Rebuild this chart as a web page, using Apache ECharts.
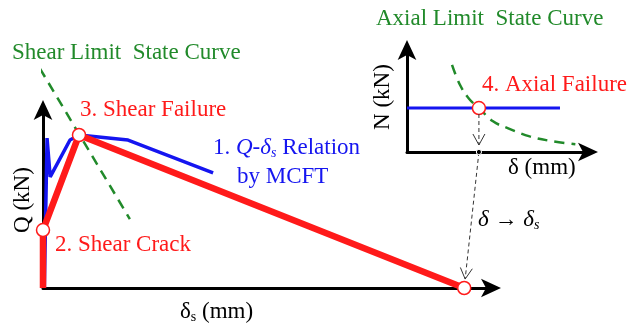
<!DOCTYPE html>
<html>
<head>
<meta charset="utf-8">
<script src="https://cdn.jsdelivr.net/npm/echarts@6/dist/echarts.min.js"></script>
<style>
  html, body { margin: 0; padding: 0; background: #fff; }
  #chart { width: 630px; height: 327px; }
</style>
</head>
<body>
<div id="chart"></div>
<script>
// Shear response Q–δs (main panel), schematic units 0..100 on both axes
const mcftDelta = [0.3, 0.9, 1.6, 6.0, 8.0, 18.9, 37.8];
const mcftQ     = [0, 83.3, 61.7, 82.2, 85.0, 82.2, 63.9];

const modelDelta = [0, 0, 8.0, 93.6];
const modelQ     = [0, 32.2, 85.0, 0];

const shearLimitDelta = [-0.7, 19.3];
const shearLimitQ     = [122, 38.3];

// Marked states on the model curve: crack, shear failure, axial failure
const stateDelta = [0, 8.0, 93.6];
const stateQ     = [32.2, 85.0, 0];

// Axial response N–δ (inset panel)
const axialDelta = [0, 83.6];
const axialN     = [42.3, 42.3];

const axialLimitDelta = [24.6, 29, 34, 39.3, 47, 55, 67, 79, 92];
const axialLimitN     = [83.7, 64.4, 51, 42.3, 29.5, 23, 15, 10.5, 7.5];

const axialFailure = [39.3, 42.3];

const RED = '#ff1a1a', BLUE = '#1515f0', GREEN = '#218a2a';
const SERIF = 'Liberation Serif';
const FS = 23, SUB = 14;

const chart = echarts.init(document.getElementById('chart'), null, { renderer: 'canvas' });

function axis(gridIndex) {
  return {
    type: 'value', gridIndex, min: 0, max: 100,
    axisLine: { show: true, lineStyle: { color: '#000', width: 3 },
      symbol: ['none', 'arrow'], symbolSize: [14, 20], symbolOffset: [0, 8] },
    axisTick: { show: false }, axisLabel: { show: false }, splitLine: { show: false }
  };
}

const richFor = (color) => ({
  n: { color: color, fontFamily: SERIF, fontSize: FS },
  i: { color: color, fontFamily: SERIF, fontSize: FS, fontStyle: 'italic' },
  s: { color: color, fontFamily: SERIF, fontSize: SUB, padding: [11, 0, 0, 0] },
  si: { color: color, fontFamily: SERIF, fontSize: SUB, fontStyle: 'italic', padding: [11, 0, 0, 0] }
});

// Text element; str uses rich-text markup ({n|...} plain, {i|...} italic, {s|...} subscript)
function text(x, y, str, color, align, rotation) {
  return {
    type: 'text', x, y, z: 100, rotation: rotation || 0,
    style: { text: str, fill: color, fontFamily: SERIF, fontSize: FS, rich: richFor(color),
      align: align || 'left', verticalAlign: 'middle' }
  };
}

const option = {
  animation: false,
  grid: [
    { left: 43, top: 108, width: 450, height: 180 },
    { left: 407, top: 48, width: 183, height: 104 }
  ],
  xAxis: [axis(0), axis(1)],
  yAxis: [axis(0), axis(1)],
  series: [
    { type: 'line', xAxisIndex: 0, yAxisIndex: 0, clip: false, symbol: 'none',
      lineStyle: { color: GREEN, width: 2.5, type: [10, 7] },
      data: shearLimitDelta.map((d, i) => [d, shearLimitQ[i]]) },
    { type: 'line', xAxisIndex: 0, yAxisIndex: 0, symbol: 'none', z: 3,
      lineStyle: { color: BLUE, width: 3.5 },
      data: mcftDelta.map((d, i) => [d, mcftQ[i]]) },
    { type: 'line', xAxisIndex: 0, yAxisIndex: 0, symbol: 'none', z: 4, clip: false,
      lineStyle: { color: RED, width: 6.5, join: 'round' },
      data: modelDelta.map((d, i) => [d, modelQ[i]]) },
    { type: 'scatter', xAxisIndex: 0, yAxisIndex: 0, z: 6, clip: false, symbolSize: 13,
      itemStyle: { color: '#fff', opacity: 1, borderColor: RED, borderWidth: 1.5 },
      data: stateDelta.map((d, i) => [d, stateQ[i]]) },
    { type: 'line', xAxisIndex: 1, yAxisIndex: 1, symbol: 'none',
      lineStyle: { color: BLUE, width: 3 },
      data: axialDelta.map((d, i) => [d, axialN[i]]) },
    { type: 'line', xAxisIndex: 1, yAxisIndex: 1, symbol: 'none', smooth: 0.4,
      lineStyle: { color: GREEN, width: 2.5, type: [10, 7] },
      data: axialLimitDelta.map((d, i) => [d, axialLimitN[i]]) },
    { type: 'scatter', xAxisIndex: 1, yAxisIndex: 1, z: 6, symbolSize: 13,
      itemStyle: { color: '#fff', opacity: 1, borderColor: RED, borderWidth: 1.5 },
      data: [axialFailure] }
  ]
};
chart.setOption(option);

// Dashed transfer arrow: axial failure δ in the inset mapped onto δs of the main panel
const pA = chart.convertToPixel({ xAxisIndex: 1, yAxisIndex: 1 }, axialFailure);
const pDot = chart.convertToPixel({ xAxisIndex: 1, yAxisIndex: 1 }, [axialFailure[0], 0]);
const pEnd = chart.convertToPixel({ xAxisIndex: 0, yAxisIndex: 0 }, [stateDelta[2], stateQ[2]]);

function shorten(from, to, gap) {
  const dx = to[0] - from[0], dy = to[1] - from[1], L = Math.hypot(dx, dy);
  return [to[0] - dx / L * gap, to[1] - dy / L * gap];
}
function openHead(from, tip, len, half) {
  const dx = tip[0] - from[0], dy = tip[1] - from[1], L = Math.hypot(dx, dy);
  const ux = dx / L, uy = dy / L, bx = tip[0] - ux * len, by = tip[1] - uy * len;
  return {
    type: 'polyline', z: 90,
    shape: { points: [[bx - uy * half, by + ux * half], tip, [bx + uy * half, by - ux * half]] },
    style: { stroke: '#333', lineWidth: 1, fill: null }
  };
}
const dashStyle = { stroke: '#333', lineWidth: 1, lineDash: [4, 3] };
const tip1 = shorten(pA, pDot, 7);
const tip2 = shorten(pDot, pEnd, 9);

chart.setOption({
  graphic: [
    { type: 'line', z: 90, shape: { x1: pA[0], y1: pA[1] + 6, x2: tip1[0], y2: tip1[1] }, style: dashStyle },
    openHead(pA, tip1, 11, 6),
    { type: 'line', z: 90, shape: { x1: pDot[0], y1: pDot[1], x2: tip2[0], y2: tip2[1] }, style: dashStyle },
    openHead(pDot, tip2, 11, 6),
    { type: 'circle', z: 95, shape: { cx: pDot[0], cy: pDot[1], r: 2.6 },
      style: { fill: '#000', stroke: '#fff', lineWidth: 1 } },

    text(12, 53, '{n|Shear Limit  State Curve}', GREEN),
    text(376, 19, '{n|Axial Limit  State Curve}', GREEN),
    text(80, 110, '{n|3. Shear Failure}', RED),
    text(55, 245, '{n|2. Shear Crack}', RED),
    text(482, 85, '{n|4. Axial Failure}', RED),
    text(213, 148, '{n|1. }{i|Q-δ}{si|s}{n| Relation}', BLUE),
    text(237, 177, '{n|by MCFT}', BLUE),
    text(180, 312, '{n|δ}{s|s}{n| (mm)}', '#000'),
    text(508, 168, '{n|δ (mm)}', '#000'),
    text(478, 220, '{i|δ → δ}{si|s}', '#000'),
    text(23, 200, '{n|Q (kN)}', '#000', 'center', Math.PI / 2),
    text(383, 97, '{n|N (kN)}', '#000', 'center', Math.PI / 2)
  ]
});
</script>
</body>
</html>
